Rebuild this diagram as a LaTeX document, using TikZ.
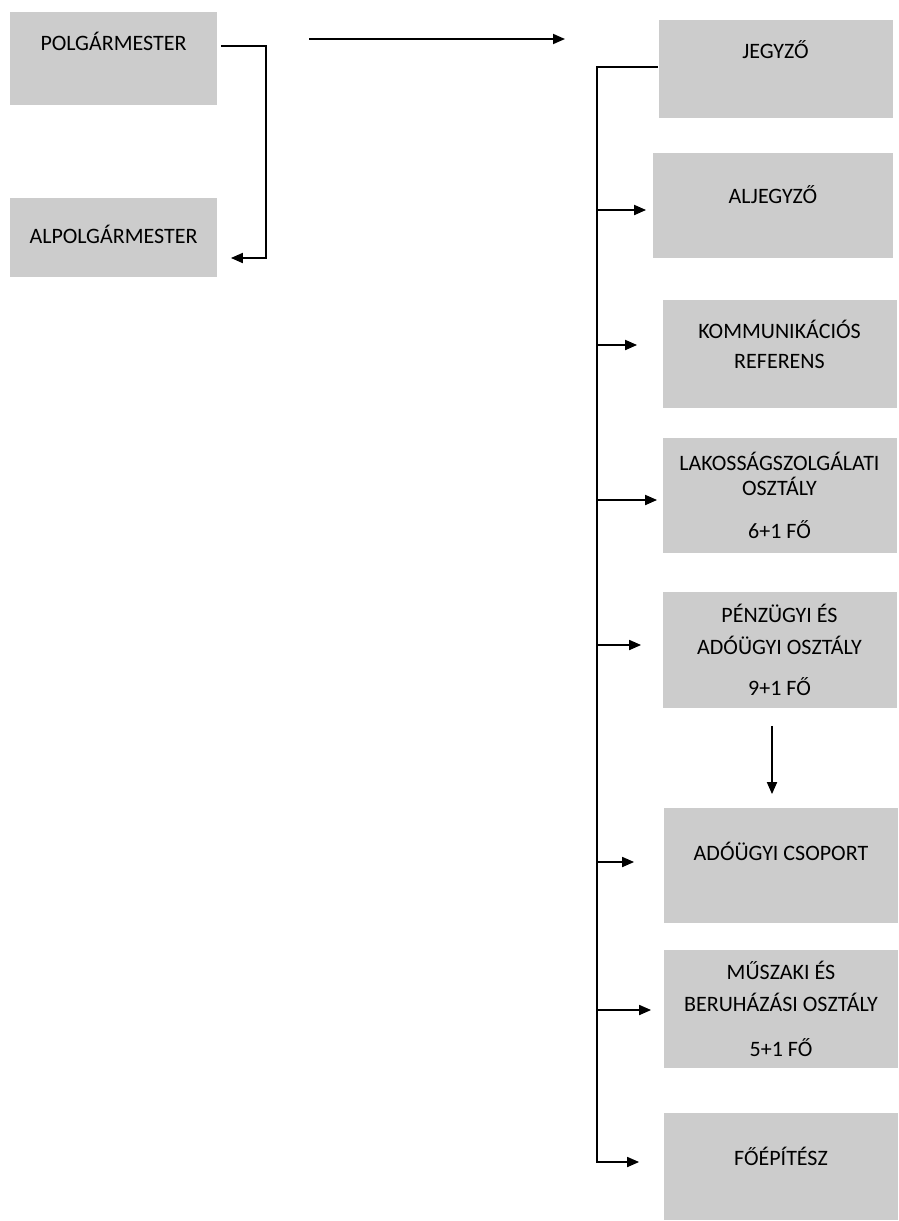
\documentclass[tikz,border=0pt]{standalone}
\usepackage{fontspec}
\setmainfont{Carlito}
\usetikzlibrary{arrows.meta}
\definecolor{scangray}{gray}{0.8}
\begin{document}
\begin{tikzpicture}[x=1pt,y=-1pt,line width=1.8pt,
    arr/.style={-{Triangle[length=12pt,width=10pt]}},
    unit node/.style={fill=scangray,inner sep=0pt,minimum width=234pt,align=center,font=\fontsize{22}{26}\selectfont},
    head node/.style={unit node,text height=14pt,inner ysep=24pt,text depth=#1}]

                \useasboundingbox (0,0) rectangle (898,1221);

                \node[head node=31pt,minimum width=207pt] at (113.5,58.5) (polg) {POLGÁRMESTER};
                \node[unit node,minimum width=207pt,minimum height=79pt,text depth=6pt] at (113.5,237.5) (alpolg) {ALPOLGÁRMESTER};

                \node[head node=36pt] at (775.5,69) (jegy) {JEGYZŐ};
                \node[unit node,minimum width=240pt,minimum height=105pt,text depth=22pt] at (773,205.5) (alj) {ALJEGYZŐ};
                \node[unit node,minimum height=108pt,text depth=20pt] at (779.5,354) (komm) {KOMMUNIKÁCIÓS\\[4pt]REFERENS};
                \node[unit node,minimum height=115pt] at (779.5,495.5) (lak) {LAKOSSÁGSZOLGÁLATI\\[-1pt]OSZTÁLY\\[17pt]6+1 FŐ};
                \node[unit node,minimum height=116pt] at (779.5,650) (penz) {PÉNZÜGYI ÉS\\[6pt]ADÓÜGYI OSZTÁLY\\[15pt]9+1 FŐ};
                \node[unit node,minimum height=115pt,text depth=28pt] at (781,865.5) (adocs) {ADÓÜGYI CSOPORT};
                \node[unit node,minimum height=118pt] at (781,1009) (musz) {MŰSZAKI ÉS\\[6pt]BERUHÁZÁSI OSZTÁLY\\[19pt]5+1 FŐ};
                \node[unit node,minimum height=107pt,text depth=20pt] at (781,1166.5) (feoep) {FŐÉPÍTÉSZ};

                \coordinate (lead) at (309,39);
                \coordinate (leadend) at (565,39);

                \path[arr] (lead) edge (leadend);
                \draw[arr] ([xshift=3pt,yshift=-35pt]polg.north east) -| ([xshift=48pt,yshift=-20.5pt]alpolg.east) -- ([xshift=13pt,yshift=-20.5pt]alpolg.east);

                \draw[arr] ([yshift=2pt]jegy.west) -| ([xshift=-66pt,yshift=4.5pt]feoep.west) -- ([xshift=-24pt,yshift=4.5pt]feoep.west);
                \path[arr] ([xshift=-55pt,yshift=-4.5pt]alj.west) edge ([xshift=-6pt,yshift=-4.5pt]alj.west);
                \path[arr] ([xshift=-64.5pt,yshift=9pt]komm.west) edge ([xshift=-24.5pt,yshift=9pt]komm.west);
                \path[arr] ([xshift=-64.5pt,yshift=-4.5pt]lak.west) edge ([xshift=-4.5pt,yshift=-4.5pt]lak.west);
                \path[arr] ([xshift=-64.5pt,yshift=5pt]penz.west) edge ([xshift=-20.5pt,yshift=5pt]penz.west);
                \path[arr] ([xshift=-66pt,yshift=3.5pt]adocs.west) edge ([xshift=-29pt,yshift=3.5pt]adocs.west);
                \path[arr] ([xshift=-66pt,yshift=-1pt]musz.west) edge ([xshift=-12pt,yshift=-1pt]musz.west);

                \path[arr] ([xshift=-7.5pt,yshift=-17pt]penz.south) edge ([xshift=-9pt,yshift=13pt]adocs.north);
            \end{tikzpicture}
\end{document}
